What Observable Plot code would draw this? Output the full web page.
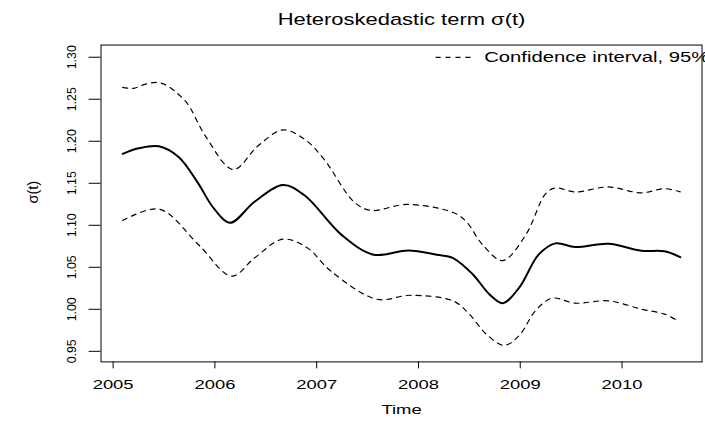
<!DOCTYPE html>
<html>
<head>
<meta charset="utf-8">
<script src="https://cdn.jsdelivr.net/npm/d3@7"></script>
<script src="https://cdn.jsdelivr.net/npm/@observablehq/plot@0.6"></script>
<style>
  html, body { margin: 0; padding: 0; background: #fff; overflow: hidden; width: 705px; height: 424px; }
  #chart svg { display: block; }
</style>
</head>
<body>
<div id="chart"></div>
<script>
const titleText = "Heteroskedastic term σ(t)";
const xLabel = "Time";
const yLabel = "σ(t)";
const legendText = "Confidence interval, 95%";

const xTicks = [2005, 2006, 2007, 2008, 2009, 2010];
const yTicks = [0.95, 1.00, 1.05, 1.10, 1.15, 1.20, 1.25, 1.30];

const tSigma = [2005.094, 2005.25, 2005.45, 2005.646, 2005.83, 2005.99, 2006.15, 2006.39, 2006.67, 2006.88, 2007.25, 2007.56, 2007.9, 2008.18, 2008.34, 2008.535, 2008.696, 2008.827, 2008.99, 2009.18, 2009.346, 2009.54, 2009.865, 2010.19, 2010.417, 2010.572];
const sigma  = [1.185, 1.1916, 1.194, 1.181, 1.151, 1.120, 1.103, 1.128, 1.148, 1.1357, 1.088, 1.065, 1.070, 1.065, 1.061, 1.0415, 1.018, 1.0073, 1.0258, 1.065, 1.0785, 1.0741, 1.078, 1.0697, 1.069, 1.062];

const tUpper = [2005.094, 2005.2, 2005.32, 2005.467, 2005.71, 2005.906, 2006.18, 2006.425, 2006.668, 2006.88, 2007.07, 2007.365, 2007.53, 2007.885, 2008.34, 2008.47, 2008.63, 2008.827, 2009.054, 2009.25, 2009.346, 2009.54, 2009.865, 2010.19, 2010.417, 2010.572];
const upper  = [1.2642, 1.263, 1.268, 1.2694, 1.2477, 1.2064, 1.1664, 1.1947, 1.2135, 1.2025, 1.179, 1.128, 1.1177, 1.1248, 1.1153, 1.1044, 1.0768, 1.058, 1.0886, 1.1377, 1.1444, 1.1397, 1.1456, 1.1386, 1.1436, 1.1397];

const tLower = [2005.094, 2005.454, 2005.84, 2006.165, 2006.39, 2006.668, 2006.91, 2007.14, 2007.59, 2007.92, 2008.34, 2008.50, 2008.664, 2008.842, 2008.99, 2009.15, 2009.313, 2009.54, 2009.865, 2010.19, 2010.417, 2010.546];
const lower  = [1.1056, 1.1192, 1.0768, 1.0396, 1.0611, 1.0835, 1.0729, 1.0454, 1.012, 1.0167, 1.010, 0.9943, 0.9707, 0.9571, 0.9689, 0.9983, 1.0132, 1.0073, 1.0101, 1.0002, 0.9943, 0.9865];

const sigmaData = tSigma.map((t, i) => ({t, v: sigma[i]}));
const upperData = tUpper.map((t, i) => ({t, v: upper[i]}));
const lowerData = tLower.map((t, i) => ({t, v: lower[i]}));

const FONT = "'Liberation Sans', Arial, Helvetica, sans-serif";
const dash = "5,5";
const fmtY = d => d.toFixed(2);

const plot = Plot.plot({
  width: 712,
  height: 424,
  marginLeft: 101.5,
  marginRight: 3.5,
  marginTop: 45,
  marginBottom: 59,
  style: {fontFamily: FONT, background: "#fff", color: "#000"},
  x: {domain: [2004.881, 2010.786], axis: null},
  y: {domain: [0.9374, 1.3145], axis: null},
  marks: [
    Plot.frame({stroke: "#000", strokeWidth: 1}),
    Plot.axisX({ticks: xTicks, tickSize: 7, tickFormat: () => "", label: null, stroke: "#000"}),
    Plot.axisY({ticks: yTicks, tickSize: 12, tickFormat: () => "", label: null, stroke: "#000"}),
    Plot.text(xTicks, {x: d => d, text: d => String(d), frameAnchor: "bottom", dy: 23, fontSize: 13.3, lineAnchor: "middle", fill: "#000"}),
    Plot.text(yTicks, {y: d => d, text: fmtY, frameAnchor: "left", dx: -29, rotate: -90, fontSize: 12.5, lineAnchor: "middle", textAnchor: "middle", fill: "#000"}),
    Plot.text([yLabel], {frameAnchor: "left", dx: -68.5, rotate: -90, fontSize: 14, lineAnchor: "middle", fill: "#000"}),
    Plot.text([xLabel], {frameAnchor: "bottom", dy: 48, fontSize: 13.5, lineAnchor: "middle", fill: "#000"}),
    Plot.text([titleText], {frameAnchor: "top", dy: -26, fontSize: 16.8, lineAnchor: "middle", fill: "#000"}),
    Plot.line(upperData, {x: "t", y: "v", stroke: "#000", strokeWidth: 1.2, strokeDasharray: dash, curve: "catmull-rom"}),
    Plot.line(lowerData, {x: "t", y: "v", stroke: "#000", strokeWidth: 1.2, strokeDasharray: dash, curve: "catmull-rom"}),
    Plot.line(sigmaData, {x: "t", y: "v", stroke: "#000", strokeWidth: 2, curve: "catmull-rom"})
  ]
});

document.getElementById("chart").appendChild(plot);

// legend (top-right, R style)
const svg = d3.select(plot);
const lg = svg.append("g").attr("font-family", FONT);
lg.append("line").attr("x1", 440).attr("x2", 477).attr("y1", 58).attr("y2", 58)
  .attr("stroke", "#000").attr("stroke-width", 1.2).attr("stroke-dasharray", dash);
lg.append("text").attr("x", 489).attr("y", 58).attr("dy", "0.35em")
  .attr("text-anchor", "start")
  .attr("font-size", 14).attr("fill", "#000").text(legendText);

// mimic the horizontally stretched raster of the reference
const factors = new Map();
xTicks.forEach(d => factors.set(String(d), 1.4));
factors.set(yLabel, 1.05);
factors.set(xLabel, 1.38);
factors.set(titleText, 1.32);
factors.set(legendText, 1.46);
svg.selectAll("text").each(function() {
  const f = factors.get(this.textContent);
  if (!f) return;
  const len = this.getComputedTextLength();
  if (len > 0) {
    this.setAttribute("textLength", (len * f).toFixed(1));
    this.setAttribute("lengthAdjust", "spacingAndGlyphs");
  }
});
</script>
</body>
</html>
